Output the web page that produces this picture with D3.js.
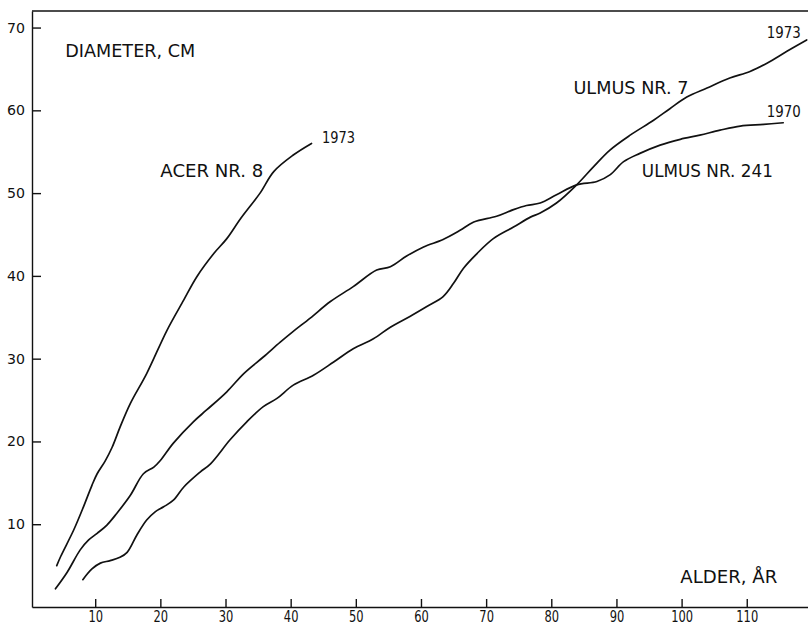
<!DOCTYPE html>
<html>
<head>
<meta charset="utf-8">
<script src="https://cdn.jsdelivr.net/npm/d3@7"></script>
<style>
    body { margin: 0; background: #fff; }
    svg { display: block; }
    .axis path, .axis line { stroke: #111; stroke-width: 1.4; }
    .axis text { font-family: "DejaVu Sans", sans-serif; fill: #111; }
    .curve { fill: none; stroke: #111; stroke-width: 1.7; stroke-linejoin: round; stroke-linecap: round; }
    .label { font-family: "DejaVu Sans", sans-serif; font-size: 17px; fill: #111; }
    .label.year { font-size: 16px; }
</style>
</head>
<body>
<div id="chart"></div>
<script>
// alder (år), diameter (cm)
const acer8 = [
    [4.1, 5.0], [4.7, 6.1], [6.7, 9.3], [8.2, 12.1], [9.5, 14.7], [10.3, 16.1],
    [11.5, 17.6], [12.6, 19.3], [13.8, 21.7], [15.4, 24.6], [17.9, 28.2], [21.0, 33.4],
    [23.6, 37.1], [25.6, 39.9], [28.2, 42.7], [30.2, 44.5], [32.3, 46.9], [35.3, 50.0],
    [37.4, 52.6], [40.4, 54.6], [43.2, 56.0]
];
const ulmus241 = [
    [3.9, 2.2], [5.7, 4.2], [7.7, 6.9], [9.0, 8.1], [10.3, 8.9], [11.8, 9.9],
    [13.3, 11.3], [15.4, 13.5], [17.4, 16.1], [19.0, 16.9], [20.0, 17.7], [22.0, 19.8],
    [25.1, 22.4], [27.1, 23.8], [30.2, 26.0], [32.8, 28.2], [35.8, 30.2], [38.4, 32.0],
    [40.4, 33.3], [43.0, 34.9], [46.1, 36.9], [49.6, 38.7], [53.2, 40.7], [55.3, 41.1],
    [57.8, 42.4], [60.4, 43.5], [63.4, 44.4], [66.0, 45.5], [68.1, 46.5], [71.6, 47.2],
    [74.2, 48.0], [76.2, 48.5], [78.3, 48.8], [80.8, 49.8], [83.9, 51.0], [87.0, 51.4],
    [89.0, 52.2], [91.1, 53.8], [93.6, 54.8], [96.7, 55.8], [99.8, 56.5], [102.8, 57.0],
    [105.9, 57.6], [109.0, 58.1], [112.6, 58.3], [115.6, 58.5]
];
const ulmus7 = [
    [8.1, 3.3], [9.5, 4.6], [10.8, 5.3], [12.3, 5.6], [13.8, 6.0], [14.9, 6.6],
    [16.4, 8.7], [17.9, 10.5], [19.2, 11.5], [20.5, 12.1], [22.0, 12.9], [23.6, 14.5],
    [26.1, 16.3], [27.7, 17.3], [30.7, 20.2], [33.3, 22.4], [35.8, 24.2], [37.9, 25.2],
    [40.4, 26.8], [43.5, 28.0], [46.6, 29.6], [49.6, 31.2], [52.7, 32.4], [55.3, 33.8],
    [58.3, 35.1], [60.9, 36.3], [63.4, 37.5], [65.0, 39.1], [66.5, 40.9], [68.6, 42.7],
    [71.1, 44.5], [74.2, 45.9], [76.8, 47.1], [78.3, 47.6], [80.8, 48.8], [83.9, 51.0],
    [86.5, 53.2], [89.0, 55.2], [92.1, 57.0], [95.7, 58.8], [98.2, 60.2], [100.8, 61.6],
    [103.9, 62.7], [107.4, 63.9], [110.5, 64.7], [113.1, 65.7], [116.1, 67.1], [119.2, 68.5]
];

const xTicks = [10, 20, 30, 40, 50, 60, 70, 80, 90, 100, 110];
const yTicks = [10, 20, 30, 40, 50, 60, 70];

// text, anchor in data units (alder, diameter)
const labelTexts = ["DIAMETER, CM", "ACER NR. 8", "1973", "ULMUS NR. 7", "ULMUS NR. 241", "1970", "1973", "ALDER, ÅR"];
const labelAt = [[5.4, 66.4], [20.0, 51.9], [44.8, 56.0], [83.4, 62.0], [93.9, 51.9], [118.3, 59.2], [118.3, 68.7], [99.8, 2.9]];
const labelAnchor = ["start", "start", "start", "start", "start", "end", "end", "start"];
const labelWidth = [130, 103, 33, 115, 131, 34, 34, 97];

const width = 808, height = 627;
const margin = {top: 11, right: 0, bottom: 20, left: 32};

const x = d3.scaleLinear().domain([0.3, 119.4]).range([margin.left, width - margin.right]);
const y = d3.scaleLinear().domain([0, 72]).range([height - margin.bottom, margin.top]);

const svg = d3.select("#chart").append("svg")
    .attr("width", width)
    .attr("height", height);

// top frame line
svg.append("line")
    .attr("x1", x.range()[0]).attr("x2", x.range()[1])
    .attr("y1", y.range()[1]).attr("y2", y.range()[1])
    .attr("stroke", "#111").attr("stroke-width", 1.4);

let gx = svg.append("g").attr("class", "axis")
    .attr("transform", `translate(0,${y.range()[0]})`)
    .call(d3.axisBottom(x).tickValues(xTicks).tickSize(-8).tickSizeOuter(0).tickPadding(4));
gx.selectAll("text")
    .attr("font-size", 15)
    .attr("textLength", d => String(d).length * 7.3)
    .attr("lengthAdjust", "spacingAndGlyphs");

let gy = svg.append("g").attr("class", "axis")
    .attr("transform", `translate(${x.range()[0]},0)`)
    .call(d3.axisLeft(y).tickValues(yTicks).tickSize(-9).tickSizeOuter(0).tickPadding(7));
gy.selectAll("text")
    .attr("font-size", 14)
    .attr("textLength", 18)
    .attr("lengthAdjust", "spacingAndGlyphs");

const line = d3.line()
    .x(d => x(d[0]))
    .y(d => y(d[1]))
    .curve(d3.curveCatmullRom.alpha(0.5));

svg.append("g").selectAll("path")
    .data([acer8, ulmus241, ulmus7])
    .enter().append("path")
    .attr("class", "curve")
    .attr("d", line);

svg.append("g").selectAll("text")
    .data(labelTexts)
    .enter().append("text")
    .attr("class", d => /^\d+$/.test(d) ? "label year" : "label")
    .attr("x", (d, i) => x(labelAt[i][0]))
    .attr("y", (d, i) => y(labelAt[i][1]))
    .attr("text-anchor", (d, i) => labelAnchor[i])
    .attr("textLength", (d, i) => labelWidth[i])
    .attr("lengthAdjust", "spacingAndGlyphs")
    .text(d => d);
</script>
</body>
</html>
